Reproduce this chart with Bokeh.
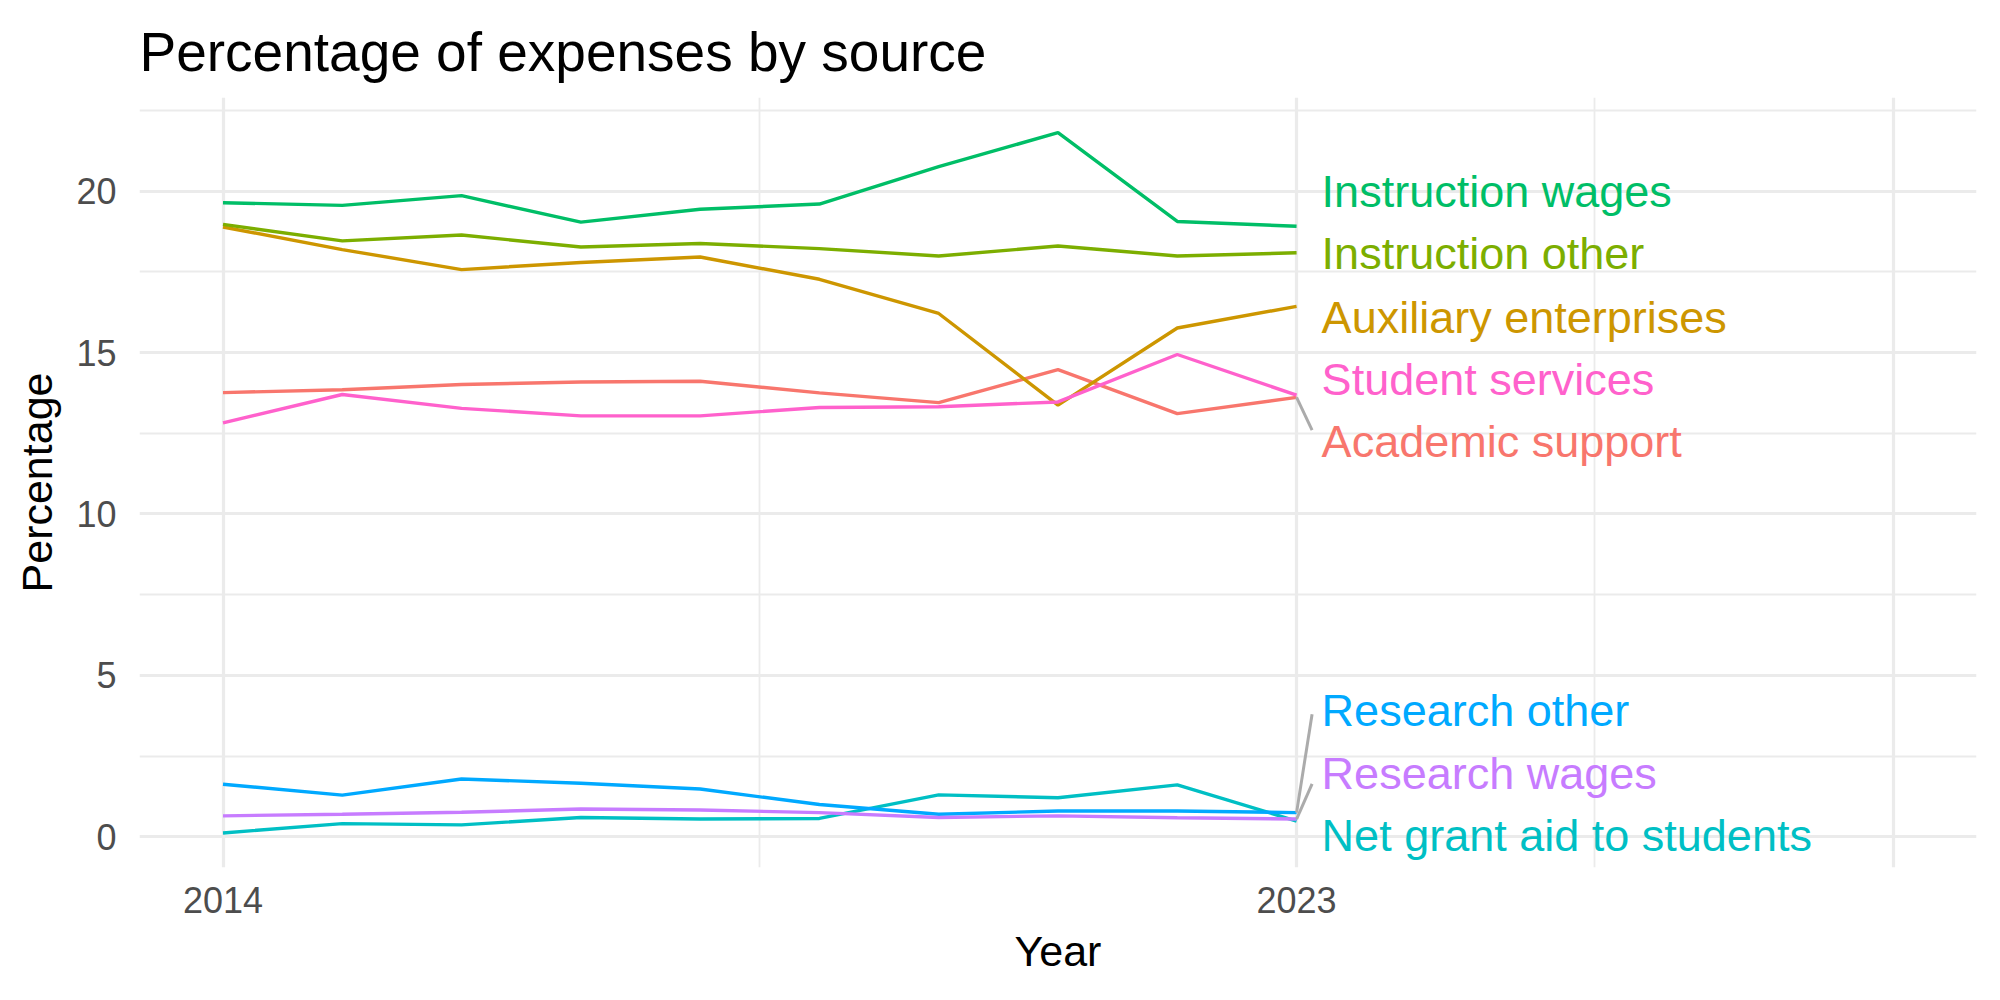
from bokeh.plotting import figure
from bokeh.models import FixedTicker, Range1d
from bokeh.core.properties import value
from bokeh.embed import file_html
from bokeh.resources import INLINE

years = list(range(2014, 2024))
academic_support = [13.76, 13.85, 14.01, 14.09, 14.11, 13.75, 13.45, 14.47, 13.11, 13.61]
auxiliary_enterprises = [18.89, 18.19, 17.57, 17.79, 17.96, 17.27, 16.21, 13.37, 15.76, 16.43]
instruction_other = [18.97, 18.46, 18.64, 18.27, 18.38, 18.22, 17.99, 18.30, 17.99, 18.09]
instruction_wages = [19.64, 19.56, 19.86, 19.04, 19.44, 19.60, 20.76, 21.81, 19.06, 18.91]
net_grant_aid = [0.12, 0.41, 0.37, 0.60, 0.55, 0.57, 1.30, 1.21, 1.61, 0.49]
research_other = [1.63, 1.29, 1.79, 1.66, 1.48, 1.00, 0.70, 0.80, 0.80, 0.75]
research_wages = [0.65, 0.70, 0.76, 0.86, 0.83, 0.75, 0.60, 0.65, 0.59, 0.55]
student_services = [12.82, 13.70, 13.27, 13.04, 13.04, 13.30, 13.32, 13.47, 14.94, 13.68]

series_names = ["Academic support", "Auxiliary enterprises", "Instruction other",
                "Instruction wages", "Net grant aid to students", "Research other",
                "Research wages", "Student services"]
series_values = [academic_support, auxiliary_enterprises, instruction_other,
                 instruction_wages, net_grant_aid, research_other,
                 research_wages, student_services]
series_colors = ["#F8766D", "#CD9600", "#7CAE00", "#00BE67",
                 "#00BFC4", "#00A9FF", "#C77CFF", "#FF61CC"]

x_ticks = [2014, 2023]
y_ticks = [0, 5, 10, 15, 20]

# label layout (repelled label positions)
label_x = 2023.21
label_y = {"Instruction wages": 19.98, "Instruction other": 18.06,
           "Auxiliary enterprises": 16.10, "Student services": 14.18,
           "Academic support": 12.23, "Research other": 3.92,
           "Research wages": 1.96, "Net grant aid to students": 0.05}
seg_end = {"Academic support": 12.60, "Research other": 3.80, "Research wages": 1.64}

FONT = "Liberation Sans"

p = figure(width=2000, height=1000, output_backend="svg", toolbar_location=None,
           x_range=Range1d(2013.3, 2028.7), y_range=Range1d(-0.95, 22.9),
           min_border_left=139, min_border_right=24, min_border_top=97,
           min_border_bottom=133)
p.outline_line_color = None
p.background_fill_color = "white"
p.border_fill_color = "white"

p.title.text = "Percentage of expenses by source"
p.title.text_font = FONT
p.title.text_font_size = "55px"
p.title.text_font_style = "normal"
p.title.text_color = "black"
p.title.standoff = 30

p.xaxis.ticker = FixedTicker(ticks=x_ticks)
p.yaxis.ticker = FixedTicker(ticks=y_ticks)
p.xgrid.ticker = FixedTicker(ticks=[2014, 2023, 2028], minor_ticks=[2018.5, 2025.5])
p.ygrid.ticker = FixedTicker(ticks=y_ticks, minor_ticks=[2.5, 7.5, 12.5, 17.5, 22.5])
for g in (p.xgrid, p.ygrid):
    g.grid_line_color = "#EBEBEB"
    g.grid_line_width = 3.2
    g.minor_grid_line_color = "#EBEBEB"
    g.minor_grid_line_width = 1.8

for ax in (p.xaxis, p.yaxis):
    ax.axis_line_color = None
    ax.major_tick_line_color = None
    ax.minor_tick_line_color = None
    ax.major_tick_out = 0
    ax.minor_tick_out = 0
    ax.major_tick_in = 0
    ax.minor_tick_in = 0
    ax.major_label_text_font = FONT
    ax.major_label_text_font_size = "36px"
    ax.major_label_text_color = "#4D4D4D"
    ax.axis_label_text_font = FONT
    ax.axis_label_text_font_size = "43px"
    ax.axis_label_text_font_style = "normal"
    ax.axis_label_text_color = "black"

p.xaxis.axis_label = "Year"
p.yaxis.axis_label = "Percentage"
p.xaxis.major_label_standoff = 19
p.yaxis.major_label_standoff = 23
p.xaxis.axis_label_standoff = 11
p.yaxis.axis_label_standoff = 12

for name, vals, col in zip(series_names, series_values, series_colors):
    p.line(years, vals, line_color=col, line_width=3.4)

# repel segments
for name in seg_end:
    vals = series_values[series_names.index(name)]
    p.segment(x0=[years[-1]], y0=[vals[-1]], x1=[2023.13], y1=[seg_end[name]],
              line_color="#ABABAB", line_width=3)

p.text(x=[label_x] * len(series_names), y=[label_y[n] for n in series_names],
       text=series_names, text_color=series_colors,
       text_font=value(FONT), text_font_size="45px",
       text_baseline="middle", text_align="left")

open("out.html", "w").write(file_html(p, INLINE))
